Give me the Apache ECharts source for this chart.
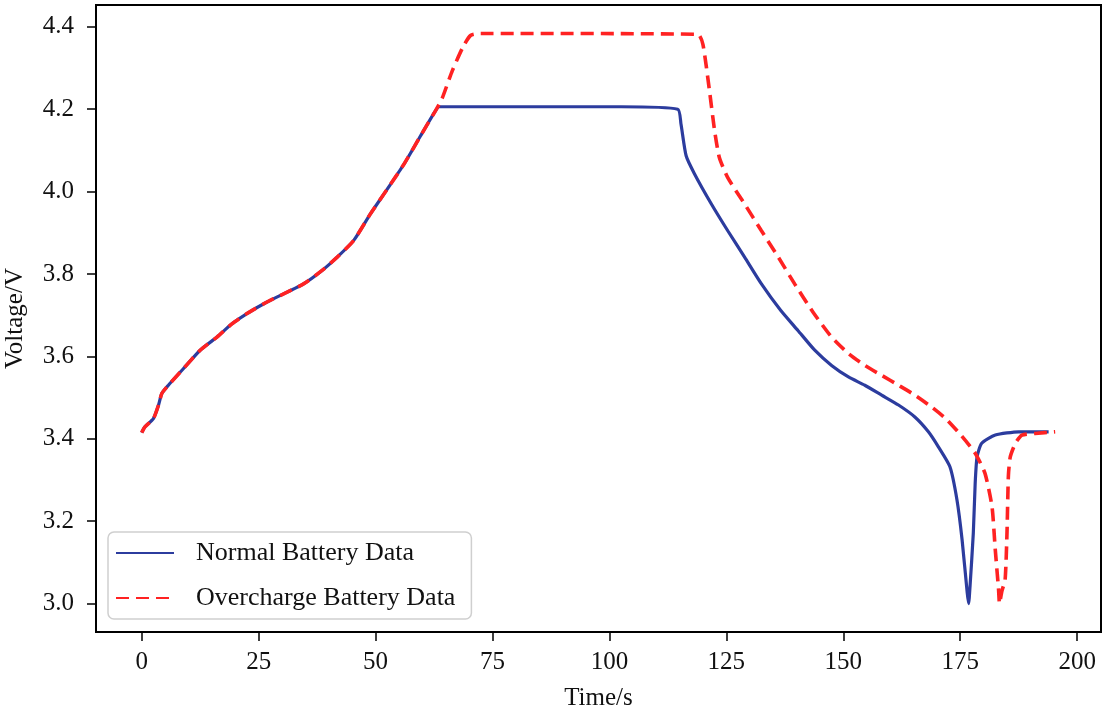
<!DOCTYPE html>
<html>
<head>
<meta charset="utf-8">
<script src="https://cdn.jsdelivr.net/npm/echarts@6/dist/echarts.min.js"></script>
<style>html,body{margin:0;padding:0;background:#fff;}#c{width:1105px;height:713px;}</style>
</head>
<body>
<div id="c"></div>
<script>
const normalTime = [0, 0.7, 2.5, 3.6, 4.3, 5.7, 8.9, 12.5, 16.1, 19.3, 22.5, 26.8, 31.1, 34.6, 38.5, 41.8, 45.3, 48.9, 52.5, 56.1, 59.6, 62.8, 63.6, 102.5, 114.6, 115.3, 116.4, 118.2, 121.8, 125.3, 128.9, 132.5, 136.6, 140.3, 143.9, 147.5, 151.1, 154.6, 158.2, 161.8, 165.3, 168.2, 170.3, 172.8, 174.3, 175.4, 176.5, 176.8, 177.1, 177.8, 178.2, 178.6, 179.6, 182.5, 187.5, 193.9];
const normalVoltage = [3.415, 3.429, 3.449, 3.482, 3.51, 3.53, 3.57, 3.615, 3.647, 3.679, 3.704, 3.732, 3.756, 3.776, 3.808, 3.841, 3.881, 3.946, 4.006, 4.067, 4.135, 4.196, 4.206, 4.206, 4.2, 4.164, 4.087, 4.043, 3.97, 3.905, 3.841, 3.776, 3.712, 3.663, 3.615, 3.578, 3.55, 3.53, 3.506, 3.482, 3.453, 3.417, 3.381, 3.332, 3.252, 3.155, 3.026, 3.0, 3.042, 3.171, 3.292, 3.356, 3.389, 3.409, 3.417, 3.417];

const overTime = [0, 0.7, 2.5, 3.6, 4.3, 5.7, 8.9, 12.5, 16.1, 19.3, 22.5, 26.8, 31.1, 34.6, 38.5, 41.8, 45.3, 48.9, 52.5, 56.1, 59.6, 62.8, 63.6, 64.3, 66.4, 68.6, 70.3, 72.5, 118.9, 120.0, 121.4, 122.5, 123.5, 125.3, 128.9, 132.5, 136.1, 139.6, 143.5, 147.5, 151.1, 154.6, 158.2, 161.8, 165.3, 168.9, 172.0, 175.3, 178.2, 180.3, 181.8, 182.5, 183.2, 183.4, 183.9, 184.6, 185.0, 185.3, 185.7, 186.8, 188.2, 191.0, 195.3];
const overVoltage = [3.415, 3.429, 3.449, 3.482, 3.51, 3.53, 3.57, 3.615, 3.647, 3.679, 3.704, 3.732, 3.756, 3.776, 3.808, 3.841, 3.881, 3.946, 4.006, 4.067, 4.135, 4.196, 4.212, 4.228, 4.293, 4.349, 4.379, 4.384, 4.382, 4.357, 4.244, 4.147, 4.083, 4.034, 3.97, 3.905, 3.841, 3.776, 3.708, 3.647, 3.607, 3.578, 3.554, 3.53, 3.506, 3.477, 3.448, 3.407, 3.365, 3.316, 3.235, 3.13, 3.034, 3.0, 3.03, 3.058, 3.171, 3.31, 3.356, 3.389, 3.409, 3.413, 3.417];

const xTicks = [0, 25, 50, 75, 100, 125, 150, 175, 200];
const yTicks = [3.0, 3.2, 3.4, 3.6, 3.8, 4.0, 4.2, 4.4];
const seriesNames = ['Normal Battery Data', 'Overcharge Battery Data'];

const FONT = 'Liberation Serif';
const chart = echarts.init(document.getElementById('c'));
const pair = (t, v) => t.map((x, i) => [x, v[i]]);

const axisLineStyle = { show: true, onZero: false, lineStyle: { color: '#000', width: 2 } };
const tickStyle = { show: true, inside: false, length: 9, lineStyle: { color: '#000', width: 1.5 } };

chart.setOption({
  backgroundColor: '#fff',
  animation: false,
  grid: { left: 96, right: 4, top: 5, bottom: 81, outerBoundsMode: 'none', containLabel: false, show: true, borderColor: '#000', borderWidth: 2, backgroundColor: 'transparent' },
  legend: {
    orient: 'vertical', left: 108, top: 532,
    icon: 'inherit',
    itemWidth: 58, itemHeight: 20, itemGap: 19,
    padding: [8, 16, 8, 7],
    borderColor: '#cfcfcf', borderWidth: 1.5, borderRadius: 6, backgroundColor: '#fff',
    itemStyle: { color: 'transparent', borderColor: 'transparent', borderWidth: 0 },
    textStyle: { fontFamily: FONT, fontSize: 26, color: '#111', padding: [0, 0, 0, 17] },
    data: seriesNames
  },
  xAxis: {
    type: 'value', min: -9.77, max: 205.1,
    name: 'Time/s', nameLocation: 'middle', nameGap: 54,
    nameTextStyle: { fontFamily: FONT, fontSize: 25, color: '#111' },
    axisLine: axisLineStyle,
    splitLine: { show: false },
    axisTick: Object.assign({ customValues: xTicks }, tickStyle),
    axisLabel: { fontFamily: FONT, fontSize: 25, color: '#111', margin: 18, customValues: xTicks, formatter: v => String(v) }
  },
  yAxis: {
    type: 'value', min: 2.931, max: 4.453,
    name: 'Voltage/V', nameLocation: 'middle', nameGap: 68, nameRotate: 90,
    nameTextStyle: { fontFamily: FONT, fontSize: 25, color: '#111' },
    axisLine: axisLineStyle,
    splitLine: { show: false },
    axisTick: Object.assign({ customValues: yTicks }, tickStyle),
    axisLabel: { fontFamily: FONT, fontSize: 25, color: '#111', margin: 22, customValues: yTicks, formatter: v => v.toFixed(1) }
  },
  series: [
    {
      name: seriesNames[0], type: 'line', data: pair(normalTime, normalVoltage),
      showSymbol: false, symbol: 'none', smooth: 0.2,
      lineStyle: { color: '#2c3c9e', width: 3.2 },
      itemStyle: { color: '#2c3c9e' }
    },
    {
      name: seriesNames[1], type: 'line', data: pair(overTime, overVoltage),
      showSymbol: false, symbol: 'none', smooth: 0.2,
      lineStyle: { color: '#ff2222', width: 3.6, type: [13, 7] },
      itemStyle: { color: '#ff2222' }
    }
  ]
});
</script>
</body>
</html>
